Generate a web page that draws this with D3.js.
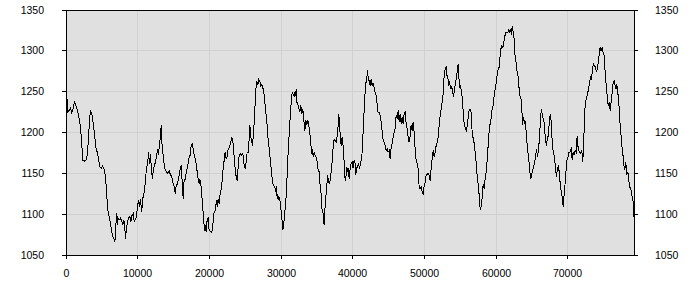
<!DOCTYPE html>
<html><head><meta charset="utf-8">
<script src="https://cdn.jsdelivr.net/npm/d3@7"></script>
<style>
body{margin:0;background:#fff}
svg{display:block}
text{font-family:"Liberation Sans",Arial,sans-serif;font-size:10.5px;fill:#000}
</style>
</head><body><svg id="c" width="700" height="300"></svg>
<script>
const xVals = [0,93,186,372,558,744,930,1116,1256,1395,1581,1767,1953,2139,2279,2511,2697,2883,3069,3209,3348,3534,3720,3906,4092,4278,4464,4650,4836,5022,5208,5394,5580,5720,5859,6045,6231,6417,6603,6696,6836,6929,7022,7115,7208,7347,7533,7719,7859,7998,8138,8231,8370,8510,8649,8835,8975,9114,9300,9440,9579,9765,9905,10044,10184,10323,10463,10602,10695,10881,11021,11160,11346,11439,11579,11718,11858,11997,12137,12276,12416,12555,12695,12834,12974,13113,13206,13299,13439,13578,13764,13950,14136,14322,14508,14694,14880,15066,15159,15299,15485,15624,15810,
15996,16182,16275,16368,16554,16740,16926,17112,17252,17391,17531,17670,17810,17949,18089,18228,18368,18507,18600,18740,18879,18972,19112,19251,19344,19484,19623,19763,19902,20088,20274,20414,20553,20693,20832,20925,21018,21158,21297,21437,21576,21716,21855,21995,22134,22274,22413,22506,22646,22785,22925,23064,23204,23343,23436,23576,23715,23808,23901,23994,24087,24227,24366,24506,24645,24785,24924,25064,25203,25343,25482,25575,25668,25761,25854,25947,26087,26226,26319,26412,26552,26691,26831,26970,27110,27249,27389,27528,27668,27807,27947,28086,28226,28365,28505,28644,28784,28923,29063,29202,29295,29388,29481,29574,29714,29807,29900,29993,30086,30179,30318,30411,30551,30690,30830,30969,31109,31248,31388,31481,31620,31760,
31806,31946,32039,32132,32271,32411,32550,32690,32829,32969,33108,33248,33387,33527,33666,33806,33945,34085,34224,34317,34410,34550,34689,34829,34968,35108,35247,35387,35526,35619,35759,35852,35945,36038,36131,36270,36410,36503,36642,36782,36921,37061,37200,37340,37479,37619,37758,37898,37991,38084,38223,38316,38409,38502,38595,38688,38781,38874,39014,39107,39200,39339,39432,39572,39711,39851,39990,40130,40269,40362,40455,40595,40734,40874,41013,41153,41246,41339,41432,41571,41664,41757,41850,41990,42083,42222,42362,42501,42641,42780,42920,43059,43199,43338,43478,43617,43757,43896,44036,44175,44315,44454,44594,44733,44873,45012,45152,45291,45431,45570,45710,45849,45989,46128,46268,46407,46547,46686,46826,46965,47105,47244,47384,47523,47663,
47802,47942,48081,48221,48360,48500,48639,48779,48918,49058,49197,49337,49476,49616,49755,49895,50034,50174,50313,50453,50592,50732,50871,51011,51150,51290,51429,51569,51708,51848,51987,52127,52266,52406,52545,52685,52824,52964,53057,53196,53336,53429,53568,53708,53847,53987,54126,54266,54405,54545,54638,54731,54824,54963,55103,55242,55335,55428,55521,55661,55800,55940,56079,56172,56312,56451,56544,56637,56777,56916,57056,57195,57288,57381,57474,57567,57660,57753,57893,58032,58125,58265,58404,58544,58683,58823,58962,59102,59241,59381,59520,59660,59799,59939,60078,60218,60357,60450,60590,60729,60869,61008,61148,61287,61427,61566,61706,61845,61938,62078,62171,62310,62450,62589,62729,62868,63008,63147,63287,63426,63566,
63612,63752,63891,64031,64170,64310,64449,64589,64728,64868,65007,65147,65286,65426,65565,65705,65844,65984,66077,66170,66263,66402,66542,66681,66821,66960,67100,67239,67332,67472,67565,67658,67797,67937,68076,68216,68355,68495,68634,68774,68913,69053,69192,69285,69378,69518,69657,69797,69936,70076,70215,70308,70448,70541,70680,70820,70959,71099,71238,71331,71471,71610,71750,71889,72029,72168,72261,72401,72540,72680,72819,72959,73098,73238,73377,73517,73656,73796,73935,74075,74214,74354,74447,74586,74726,74865,75005,75144,75284,75423,75563,75702,75842,75981,76121,76260,76400,76539,76679,76772,76911,77051,77190,77330,77469,77609,77748,77888,78027,78167,78306,78446,78585,78725,78864,79004,79143,79240];

const yVals = [1238,1239,1225,1227,1230,1224,1229,1239,1234,1231,1225,1217,1207,1184,1166,1165,1166,1172,1192,1217,1226,1223,1211,1198,1182,1176,1168,1158,1156,1159,1156,1148,1131,1107,1101,1093,1083,1074,1070,1067,1070,1095,1101,1087,1095,1093,1095,1091,1087,1093,1083,1070,1083,1091,1095,1097,1091,1098,1101,1091,1093,1097,1111,1117,1109,1119,1103,1111,1123,1127,1143,1156,1164,1176,1162,1174,1152,1143,1156,1160,1164,1170,1180,1172,1188,1194,1209,1188,1176,1164,1154,1152,1150,1153,1148,1146,1137,1133,1125,1135,1137,1143,1153,
1160,1133,1119,1139,1143,1152,1160,1170,1172,1184,1186,1180,1172,1168,1162,1152,1143,1137,1143,1137,1123,1111,1097,1080,1087,1078,1093,1095,1080,1079,1078,1087,1101,1103,1111,1117,1109,1119,1113,1125,1131,1141,1156,1166,1176,1168,1170,1178,1180,1184,1188,1194,1190,1176,1164,1152,1143,1141,1152,1164,1172,1174,1172,1174,1172,1160,1156,1164,1176,1176,1192,1209,1200,1192,1188,1184,1200,1217,1237,1253,1263,1258,1265,1263,1257,1259,1255,1249,1237,1225,1213,1196,1184,1172,1160,1148,1137,1135,1133,1127,1135,1119,1125,1117,1121,1115,1107,1099,1091,1081,1089,1097,1113,1127,1160,1184,1205,1225,1241,1249,1247,1245,
1249,1245,1253,1237,1235,1229,1225,1233,1223,1229,1215,1202,1215,1209,1215,1209,1200,1186,1174,1180,1170,1176,1172,1170,1164,1154,1152,1135,1125,1107,1105,1093,1087,1103,1119,1127,1148,1143,1137,1141,1152,1164,1182,1192,1190,1188,1196,1209,1223,1209,1192,1184,1193,1194,1182,1170,1156,1141,1148,1158,1152,1156,1143,1156,1162,1164,1156,1166,1162,1148,1156,1158,1162,1156,1162,1168,1176,1192,1213,1233,1251,1261,1261,1276,1268,1263,1257,1265,1257,1261,1255,1249,1245,1235,1224,1224,1221,1213,1202,1190,1188,1184,1178,1180,1176,1178,1168,1182,1186,1194,1200,1205,1221,1217,1227,1213,1223,1211,1219,1211,1223,1225,1211,1205,1194,
1188,1196,1209,1202,1213,1200,1180,1166,1162,1156,1133,1131,1133,1127,1125,1135,1139,1148,1148,1150,1148,1141,1156,1168,1178,1170,1176,1184,1188,1194,1209,1221,1229,1237,1247,1270,1278,1280,1270,1268,1257,1263,1253,1257,1251,1243,1253,1261,1268,1278,1284,1270,1255,1257,1251,1239,1227,1215,1209,1205,1202,1211,1221,1228,1228,1225,1207,1196,1192,1184,1172,1160,1146,1139,1135,1123,1111,1105,1111,1125,1137,1131,1143,1152,1166,1184,1202,1211,1217,1229,1233,1245,1253,1261,1270,1278,1280,1290,1302,1306,1304,1310,1318,1322,1323,1322,1326,1322,1327,1320,1330,1324,1314,1292,1286,1274,1268,1253,1243,1241,1221,
1209,1219,1211,1213,1194,1182,1168,1160,1143,1146,1154,1156,1164,1168,1180,1170,1180,1192,1209,1221,1229,1219,1217,1209,1190,1184,1194,1196,1211,1222,1220,1205,1182,1176,1170,1156,1146,1156,1160,1148,1133,1127,1119,1109,1119,1133,1150,1166,1168,1176,1176,1178,1182,1166,1176,1172,1178,1176,1196,1184,1178,1176,1174,1178,1164,1190,1221,1237,1243,1247,1253,1261,1268,1265,1278,1284,1282,1280,1274,1278,1288,1298,1304,1300,1304,1298,1294,1274,1259,1245,1233,1237,1227,1237,1249,1261,1263,1257,1253,1259,1249,1237,1215,1200,1184,1175,1160,1154,1164,1148,1152,1141,1133,1131,1123,1121,1096,1100];

const xTicks = [0,10000,20000,30000,40000,50000,60000,70000];
const yTicks = [1050,1100,1150,1200,1250,1300,1350];
const xDomain = [0,79240];
const yDomain = [1050,1350];

const svg = d3.select("#c");
const L = 66, R = 634, T = 10, B = 255;

const x = d3.scaleLinear().domain(xDomain).range([L, R]);
const y = d3.scaleLinear().domain(yDomain).range([B, T]);
const floorInterp = (a, b) => t => Math.floor(a + (b - a) * t);
const xa = x.copy().interpolate(floorInterp);
const ya = y.copy().interpolate(floorInterp);

svg.append("rect").attr("x", L).attr("y", T).attr("width", R - L).attr("height", B - T).attr("fill", "#e0e0e0");

// grid
const gx = svg.append("g").attr("transform", `translate(0,${B})`)
  .call(d3.axisBottom(xa).tickValues(xTicks).tickSize(-(B - T)).tickFormat(""));
const gy = svg.append("g").attr("transform", `translate(${L},0)`)
  .call(d3.axisLeft(ya).tickValues(yTicks).tickSize(-(R - L)).tickFormat(""));
[gx, gy].forEach(g => { g.select(".domain").remove(); g.selectAll("line").attr("stroke", "#d0d0d0"); });

// line
const data = xVals.map((v, i) => [v, yVals[i]]);
svg.append("path").datum(data)
  .attr("fill", "none").attr("stroke", "#000").attr("stroke-width", 1)
  .attr("shape-rendering", "crispEdges")
  .attr("d", d3.line().x(d => x(d[0]) + 0.5).y(d => y(d[1])));

// frame
svg.append("rect").attr("x", L + 0.5).attr("y", T + 0.5).attr("width", R - L).attr("height", B - T)
  .attr("fill", "none").attr("stroke", "#000");

// axes
const fmt = d3.format("d");
const ax = svg.append("g").attr("transform", `translate(0,${B})`)
  .call(d3.axisBottom(xa).tickValues(xTicks).tickSize(4).tickPadding(11).tickFormat(fmt));
const al = svg.append("g").attr("transform", `translate(${L},0)`)
  .call(d3.axisLeft(ya).tickValues(yTicks).tickSize(4).tickPadding(18).tickFormat(fmt));
const ar = svg.append("g").attr("transform", `translate(${R},0)`)
  .call(d3.axisRight(ya).tickValues(yTicks).tickSize(4).tickPadding(17).tickFormat(fmt));
[ax, al, ar].forEach(g => {
  g.select(".domain").remove();
  g.attr("font-family", null).attr("font-size", null);
  g.selectAll("line").attr("stroke", "#000");
  g.selectAll("text").attr("fill", "#000");
});
</script>
</body></html>
